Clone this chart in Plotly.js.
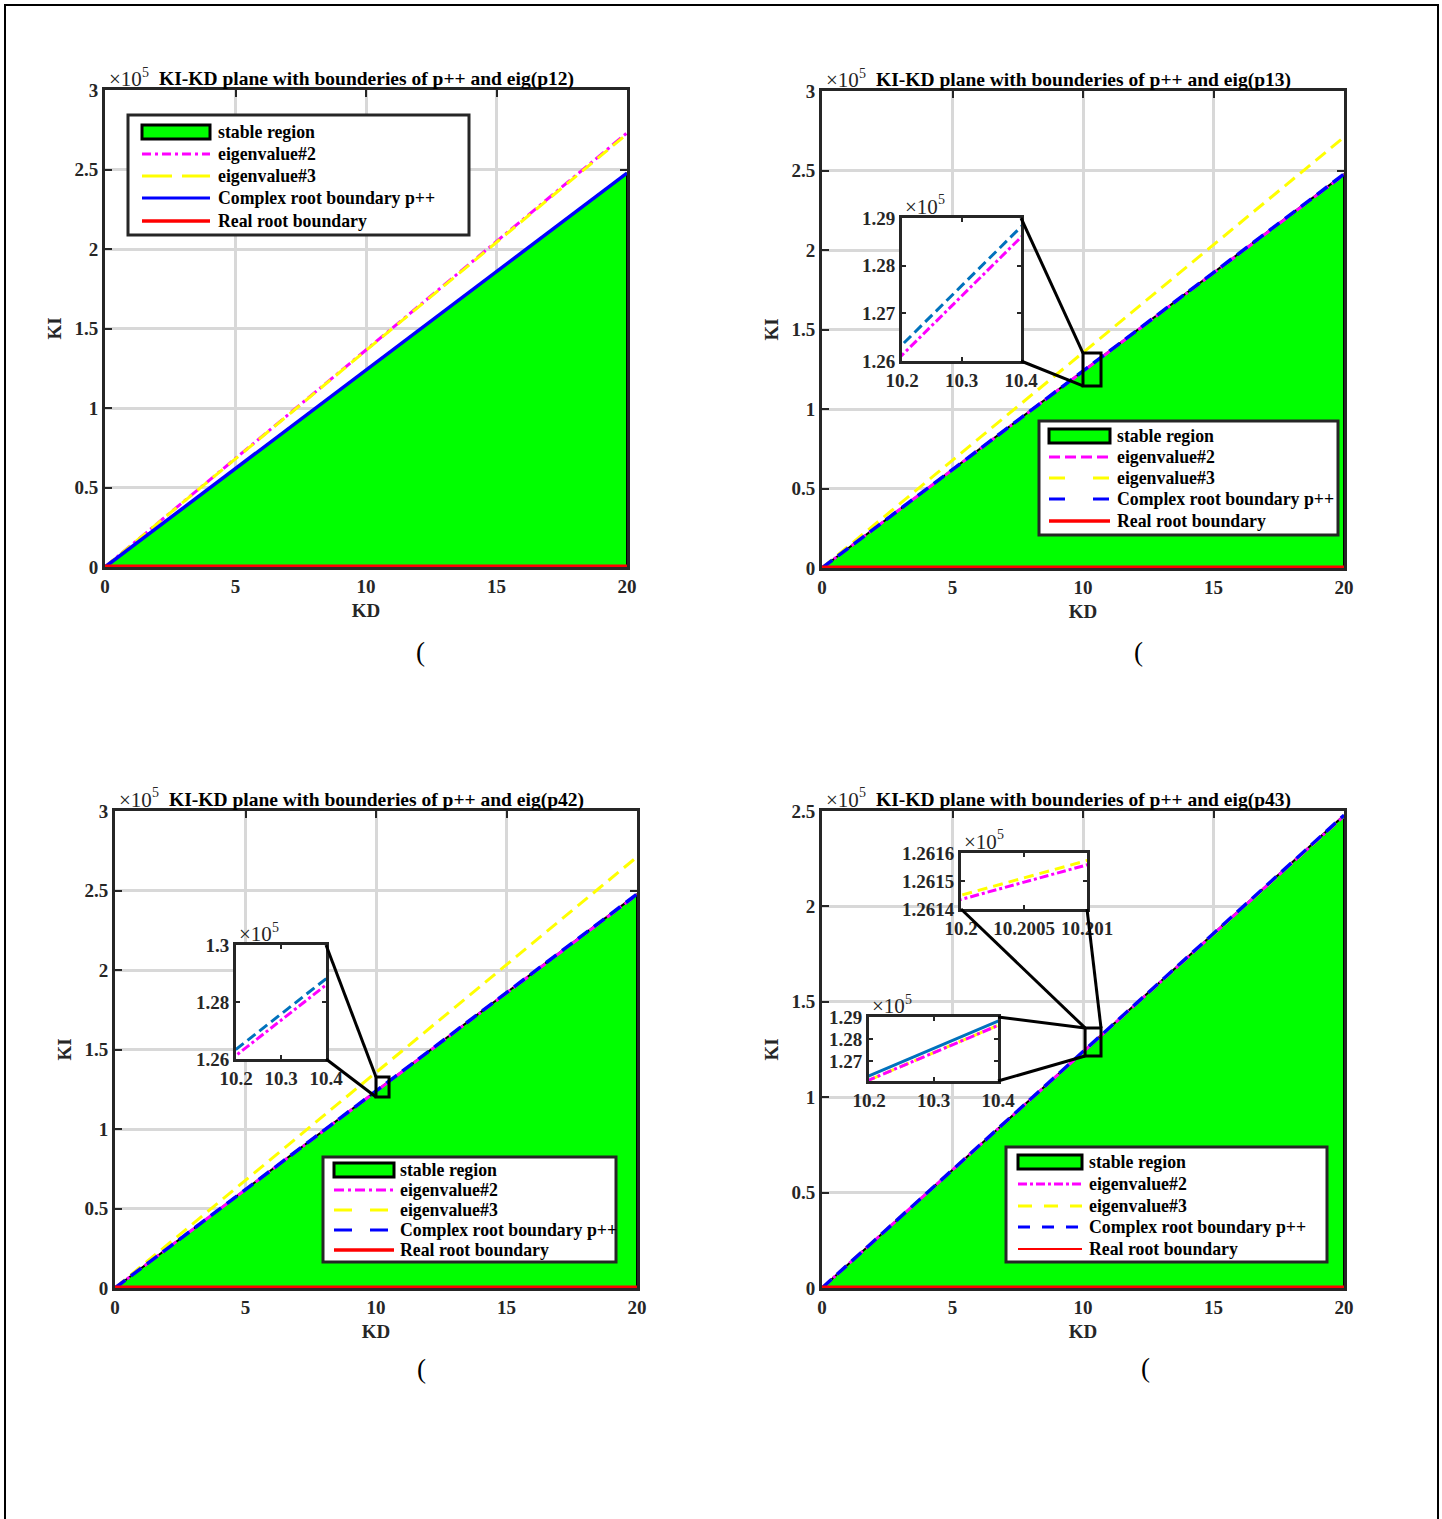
<!DOCTYPE html>
<html>
<head>
<meta charset="utf-8">
<script src="https://cdn.plot.ly/plotly-3.0.1.min.js"></script>
<style>
  html, body { margin: 0; padding: 0; background: #ffffff; }
  #chart { width: 1442px; height: 1519px; }
</style>
</head>
<body>
<div id="chart"></div>
<script>
// ---------------------------------------------------------------
// Boundary lines in the KI-KD plane (each line is straight, so it
// is given by its values at the two ends of the KD sweep).
// ---------------------------------------------------------------
const kdEnds = [0, 20];

// eig(p12)
const p12Eig2    = [0, 273000];
const p12Eig3    = [0, 272300];
const p12Complex = [0, 247720];
const p12Real    = [0, 0];

// eig(p13)
const p13Eig2    = [0, 247300];
const p13Eig3    = [0, 271000];
const p13Complex = [0, 247720];
const p13Real    = [0, 0];

// eig(p42)
const p42Eig2    = [0, 247300];
const p42Eig3    = [0, 271100];
const p42Complex = [0, 247720];
const p42Real    = [0, 0];

// eig(p43)
const p43Eig2    = [0, 247340];
const p43Eig3    = [0, 247343];
const p43Complex = [0, 247720];
const p43Real    = [0, 0];

// Tick values and labels
const kdTickVals = [0, 5, 10, 15, 20];
const kdTickText = ['0', '5', '10', '15', '20'];
const kiTickVals3 = [0, 50000, 100000, 150000, 200000, 250000, 300000];
const kiTickText3 = ['0', '0.5', '1', '1.5', '2', '2.5', '3'];
const kiTickVals25 = [0, 50000, 100000, 150000, 200000, 250000];
const kiTickText25 = ['0', '0.5', '1', '1.5', '2', '2.5'];

const zoomKdVals = [10.2, 10.3, 10.4];
const zoomKdText = ['10.2', '10.3', '10.4'];
const zoomKiVals13 = [126000, 127000, 128000, 129000];
const zoomKiText13 = ['1.26', '1.27', '1.28', '1.29'];
const zoomKiVals42 = [126000, 128000, 130000];
const zoomKiText42 = ['1.26', '1.28', '1.3'];
const zoomKiVals43 = [127000, 128000, 129000];
const zoomKiText43 = ['1.27', '1.28', '1.29'];
const fineKdVals43 = [10.2, 10.2005, 10.201];
const fineKdText43 = ['10.2', '10.2005', '10.201'];
const fineKiVals43 = [126140, 126150, 126160];
const fineKiText43 = ['1.2614', '1.2615', '1.2616'];

const panelTitles = [
  'KI-KD plane with bounderies of p++ and eig(p12)',
  'KI-KD plane with bounderies of p++ and eig(p13)',
  'KI-KD plane with bounderies of p++ and eig(p42)',
  'KI-KD plane with bounderies of p++ and eig(p43)'
];
const legendLabels = ['stable region', 'eigenvalue#2', 'eigenvalue#3',
                      'Complex root boundary p++', 'Real root boundary'];
const exponentBase = '×10';
const exponentPower = '5';

// ---------------------------------------------------------------
// Figure geometry and styling
// ---------------------------------------------------------------
const W = 1442, H = 1519;
const fx = p => p / W;          // pixel column -> paper x
const fy = p => 1 - p / H;      // pixel row    -> paper y
const SERIF = '"Liberation Serif", "Times New Roman", serif';
const INK = '#262626';
const GRID = '#d8d8d8';
const GREEN = '#00ff00', MAGENTA = '#ff00ff', YELLOW = '#ffff00',
      BLUE = '#0000ff', RED = '#ff0000', ZBLUE = '#0072bd';

const DASH_DOT = '11px,4px,3px,4px';
const DASH = '13px,7px';
const TICK_SIZE = 19;

function axisStyle(domain, range, vals, text, anchor, opts) {
  return Object.assign({
    domain: domain, range: range, anchor: anchor,
    tickmode: 'array', tickvals: vals, ticktext: text,
    showline: true, mirror: 'ticks', linecolor: INK, linewidth: 3,
    ticks: 'inside', ticklen: 7, tickwidth: 2, tickcolor: INK,
    showgrid: true, gridcolor: GRID, gridwidth: 3, zeroline: false,
    layer: 'below traces', fixedrange: true,
    tickfont: { family: SERIF, size: TICK_SIZE, color: INK, weight: 'bold' }
  }, opts || {});
}

const axisTitleFont = { family: SERIF, size: 19, color: INK, weight: 'bold' };

const panels = [
  { xa: 'x',  ya: 'y',  px: [105, 627],  py: [90, 567],   ymax: 300000,
    kiVals: kiTickVals3, kiText: kiTickText3,
    eig2: p12Eig2, eig3: p12Eig3, complex: p12Complex, real: p12Real, complexDash: 'solid' },
  { xa: 'x2', ya: 'y2', px: [822, 1344], py: [91, 568],   ymax: 300000,
    kiVals: kiTickVals3, kiText: kiTickText3,
    eig2: p13Eig2, eig3: p13Eig3, complex: p13Complex, real: p13Real, complexDash: DASH },
  { xa: 'x3', ya: 'y3', px: [115, 637],  py: [811, 1288], ymax: 300000,
    kiVals: kiTickVals3, kiText: kiTickText3,
    eig2: p42Eig2, eig3: p42Eig3, complex: p42Complex, real: p42Real, complexDash: DASH },
  { xa: 'x4', ya: 'y4', px: [822, 1344], py: [811, 1288], ymax: 250000,
    kiVals: kiTickVals25, kiText: kiTickText25,
    eig2: p43Eig2, eig3: p43Eig3, complex: p43Complex, real: p43Real, complexDash: DASH }
];

const layout = {
  width: W, height: H,
  margin: { l: 0, r: 0, t: 0, b: 0 },
  paper_bgcolor: '#ffffff', plot_bgcolor: '#ffffff',
  showlegend: false,
  shapes: [], annotations: []
};
const traces = [];

function axName(id) { return id.replace('x', 'xaxis').replace('y', 'yaxis'); }

function line(x, y, xa, ya, color, dash, width, name) {
  return { type: 'scatter', mode: 'lines', x: x, y: y, xaxis: xa, yaxis: ya,
           name: name, hoverinfo: 'skip', showlegend: false,
           line: { color: color, dash: dash, width: width } };
}

// "×10^5" multiplier written above the top-left corner of an axes box
function addExponent(left, top) {
  layout.annotations.push({
    xref: 'paper', yref: 'paper', x: fx(left), y: fy(top - 11),
    text: exponentBase, showarrow: false, xanchor: 'left', yanchor: 'middle',
    font: { family: SERIF, size: 21, color: INK }
  });
  layout.annotations.push({
    xref: 'paper', yref: 'paper', x: fx(left + 33), y: fy(top - 18),
    text: exponentPower, showarrow: false, xanchor: 'left', yanchor: 'middle',
    font: { family: SERIF, size: 14, color: INK }
  });
}

// ---- the four main panels ----
panels.forEach((p, i) => {
  const xd = [fx(p.px[0]), fx(p.px[1])];
  const yd = [fy(p.py[1]), fy(p.py[0])];
  layout[axName(p.xa)] = axisStyle(xd, [0, 20], kdTickVals, kdTickText, p.ya,
    { title: { text: 'KD', font: axisTitleFont, standoff: 8 } });
  layout[axName(p.ya)] = axisStyle(yd, [0, p.ymax], p.kiVals, p.kiText, p.xa,
    { title: { text: 'KI', font: axisTitleFont, standoff: 8 } });

  // stable region: bounded by the complex-root line, KD = 20 and the real-root line
  traces.push({
    type: 'scatter', mode: 'lines', xaxis: p.xa, yaxis: p.ya, name: legendLabels[0],
    x: [kdEnds[0], kdEnds[1], kdEnds[1], kdEnds[0]],
    y: [p.complex[0], p.complex[1], p.real[1], p.real[0]],
    fill: 'toself', fillcolor: GREEN, line: { color: '#000000', width: 2 },
    hoverinfo: 'skip', showlegend: false
  });
  traces.push(line(kdEnds, p.eig2, p.xa, p.ya, MAGENTA, DASH_DOT, 3, legendLabels[1]));
  traces.push(line(kdEnds, p.eig3, p.xa, p.ya, YELLOW, DASH, 3, legendLabels[2]));
  traces.push(line(kdEnds, p.complex, p.xa, p.ya, BLUE, p.complexDash, 3.5, legendLabels[3]));
  traces.push(line(kdEnds, p.real, p.xa, p.ya, RED, 'solid', 5, legendLabels[4]));

  // panel title and exponent label
  layout.annotations.push({
    xref: 'paper', yref: 'paper', x: (xd[0] + xd[1]) / 2, y: fy(p.py[0] - 11),
    text: panelTitles[i], showarrow: false, xanchor: 'center', yanchor: 'middle',
    font: { family: SERIF, size: 19.5, color: '#000', weight: 'bold' }
  });
  addExponent(p.px[0] + 2, p.py[0]);
});

// ---- zoomed insets ----
const insets = [
  { xa: 'x5', ya: 'y5', host: panels[1], px: [902, 1021], py: [218, 361],
    xr: [10.2, 10.4], yr: [126000, 129000], xv: zoomKdVals, xt: zoomKdText,
    yv: zoomKiVals13, yt: zoomKiText13, complexDash: '10px,5px' },
  { xa: 'x6', ya: 'y6', host: panels[2], px: [236, 326], py: [945, 1059],
    xr: [10.2, 10.4], yr: [126000, 130000], xv: zoomKdVals, xt: zoomKdText,
    yv: zoomKiVals42, yt: zoomKiText42, complexDash: '10px,5px' },
  { xa: 'x7', ya: 'y7', host: panels[3], px: [961, 1087], py: [853, 909],
    xr: [10.2, 10.201], yr: [126140, 126160], xv: fineKdVals43, xt: fineKdText43,
    yv: fineKiVals43, yt: fineKiText43, complexDash: 'solid' },
  { xa: 'x8', ya: 'y8', host: panels[3], px: [869, 998], py: [1017, 1081],
    xr: [10.2, 10.4], yr: [126100, 129000], xv: zoomKdVals, xt: zoomKdText,
    yv: zoomKiVals43, yt: zoomKiText43, complexDash: 'solid' }
];

insets.forEach(z => {
  const xd = [fx(z.px[0]), fx(z.px[1])];
  const yd = [fy(z.py[1]), fy(z.py[0])];
  const extra = { showgrid: false, layer: 'above traces', ticklen: 4 };
  layout[axName(z.xa)] = axisStyle(xd, z.xr, z.xv, z.xt, z.ya, extra);
  layout[axName(z.ya)] = axisStyle(yd, z.yr, z.yv, z.yt, z.xa, extra);
  const h = z.host;
  traces.push(line(kdEnds, h.eig3, z.xa, z.ya, YELLOW, '10px,6px', 3, legendLabels[2]));
  traces.push(line(kdEnds, h.eig2, z.xa, z.ya, MAGENTA, '9px,3px,3px,3px', 3, legendLabels[1]));
  traces.push(line(kdEnds, h.complex, z.xa, z.ya, ZBLUE, z.complexDash, 3, legendLabels[3]));
  traces.push(line(kdEnds, h.real, z.xa, z.ya, RED, 'solid', 3, legendLabels[4]));
  addExponent(z.px[0] + 1, z.py[0]);
});

// ---- zoom windows on the main panels and their connector lines ----
function toPaper(axis, v) {
  return axis.domain[0] + (v - axis.range[0]) / (axis.range[1] - axis.range[0]) *
         (axis.domain[1] - axis.domain[0]);
}
const zoomWindows = [
  { xa: 'x2', ya: 'y2', kd: [10.0, 10.69], ki: [114500, 135200],
    links: [[5, 'tr', 'tl'], [5, 'br', 'bl']] },
  { xa: 'x3', ya: 'y3', kd: [10.0, 10.5], ki: [120100, 132700],
    links: [[6, 'tr', 'tl'], [6, 'br', 'bl']] },
  { xa: 'x4', ya: 'y4', kd: [10.08, 10.69], ki: [121600, 136300],
    links: [[7, 'bl', 'tl'], [7, 'br', 'tr'], [8, 'tr', 'tl'], [8, 'br', 'bl']] }
];
function corner(xAxis, yAxis, xr, yr, c) {
  const x = c[1] === 'l' ? xr[0] : xr[1];
  const y = c[0] === 'b' ? yr[0] : yr[1];
  return [toPaper(xAxis, x), toPaper(yAxis, y)];
}
zoomWindows.forEach(w => {
  const xA = layout[axName(w.xa)], yA = layout[axName(w.ya)];
  layout.shapes.push({ type: 'rect', xref: w.xa, yref: w.ya,
    x0: w.kd[0], x1: w.kd[1], y0: w.ki[0], y1: w.ki[1],
    line: { color: '#000', width: 3 }, fillcolor: 'rgba(0,0,0,0)' });
  w.links.forEach(l => {
    const ix = layout['xaxis' + l[0]], iy = layout['yaxis' + l[0]];
    const a = corner(ix, iy, ix.range, iy.range, l[1]);
    const b = corner(xA, yA, w.kd, w.ki, l[2]);
    layout.shapes.push({ type: 'line', xref: 'paper', yref: 'paper',
      x0: a[0], y0: a[1], x1: b[0], y1: b[1], line: { color: '#000', width: 3 } });
  });
});

// ---- legends ----
const legends = [
  { box: [128, 115, 469, 235], sx: [142, 210], tx: 216, rows: [132, 154, 176, 198, 221],
    dash: ['9px,4px,3px,4px', '30px,10px', 'solid', 'solid'], realW: 3.5 },
  { box: [1039, 421, 1338, 535], sx: [1049, 1110], tx: 1115, rows: [436, 457, 478, 499, 521],
    dash: ['11px,5px', '16px,28px', '16px,28px', 'solid'], realW: 3.5 },
  { box: [323, 1157, 616, 1262], sx: [334, 394], tx: 398, rows: [1170, 1190, 1210, 1230, 1250],
    dash: ['10px,4px,3px,4px', '18px,18px', '18px,18px', 'solid'], realW: 3.5 },
  { box: [1006, 1147, 1327, 1262], sx: [1018, 1082], tx: 1087, rows: [1162, 1184, 1206, 1227, 1249],
    dash: ['9px,3px,3px,3px', '14px,12px', '12px,12px', 'solid'], realW: 2 }
];
const legendColors = [MAGENTA, YELLOW, BLUE, RED];
legends.forEach(g => {
  layout.shapes.push({ type: 'rect', xref: 'paper', yref: 'paper',
    x0: fx(g.box[0]), x1: fx(g.box[2]), y0: fy(g.box[3]), y1: fy(g.box[1]),
    fillcolor: '#ffffff', line: { color: INK, width: 3 } });
  layout.shapes.push({ type: 'rect', xref: 'paper', yref: 'paper',
    x0: fx(g.sx[0]), x1: fx(g.sx[1]), y0: fy(g.rows[0] + 7), y1: fy(g.rows[0] - 7),
    fillcolor: GREEN, line: { color: '#000', width: 3 } });
  for (let k = 0; k < 4; k++) {
    layout.shapes.push({ type: 'line', xref: 'paper', yref: 'paper',
      x0: fx(g.sx[0]), x1: fx(g.sx[1]), y0: fy(g.rows[k + 1]), y1: fy(g.rows[k + 1]),
      line: { color: legendColors[k], dash: g.dash[k], width: k === 3 ? g.realW : 3 } });
  }
  g.rows.forEach((r, k) => {
    layout.annotations.push({ xref: 'paper', yref: 'paper', x: fx(g.tx), y: fy(r),
      text: legendLabels[k], showarrow: false, xanchor: 'left', yanchor: 'middle',
      font: { family: SERIF, size: 17.8, color: '#000', weight: 'bold' } });
  });
});

// ---- sub-figure markers and outer frame ----
[[420, 652], [1138, 652], [421, 1369], [1145, 1368]].forEach(m => {
  layout.annotations.push({ xref: 'paper', yref: 'paper', x: fx(m[0]), y: fy(m[1]),
    text: '(', showarrow: false, xanchor: 'center', yanchor: 'middle',
    font: { family: SERIF, size: 27, color: '#000' } });
});
layout.shapes.push({ type: 'rect', xref: 'paper', yref: 'paper',
  x0: fx(5), x1: fx(1438), y0: -0.02, y1: fy(5),
  line: { color: '#000', width: 2 }, fillcolor: 'rgba(0,0,0,0)', layer: 'below' });

Plotly.newPlot('chart', traces, layout, { staticPlot: true, displayModeBar: false });
</script>
</body>
</html>
